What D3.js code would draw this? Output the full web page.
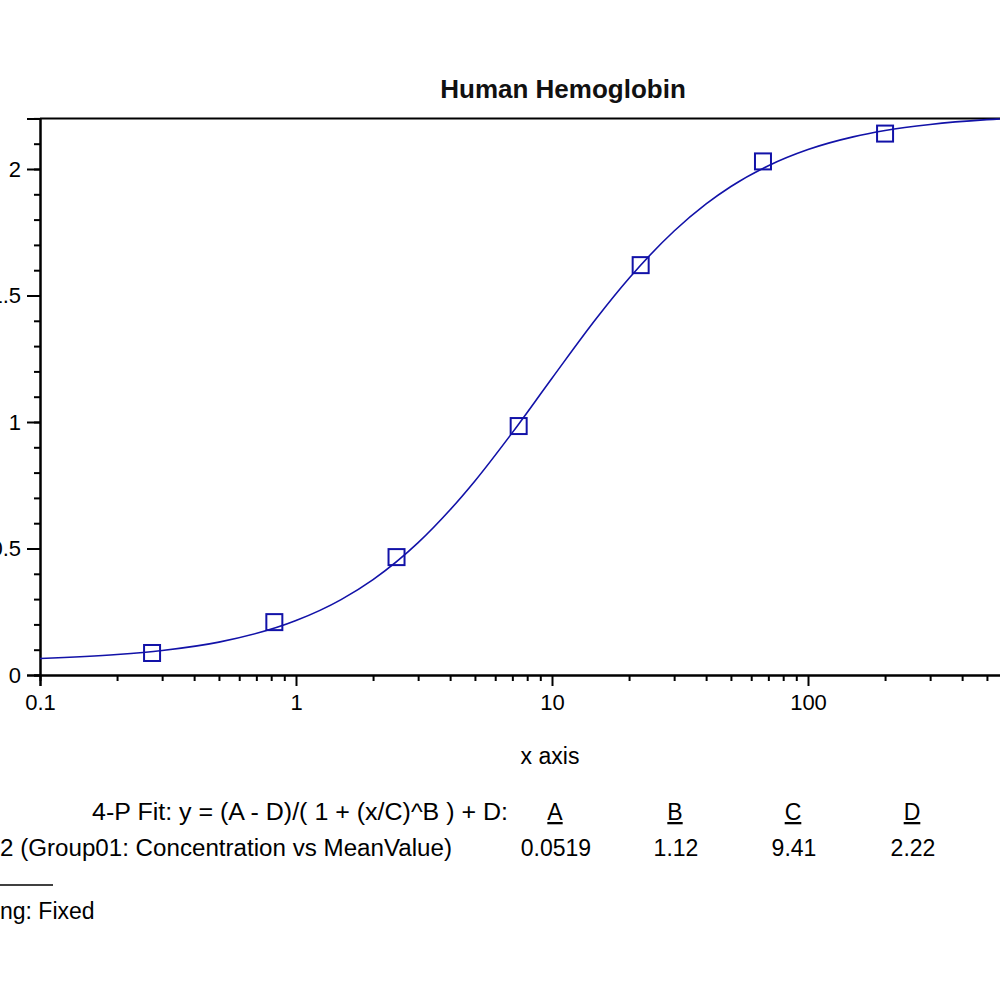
<!DOCTYPE html>
<html>
<head>
<meta charset="utf-8">
<script src="https://cdn.jsdelivr.net/npm/d3@7"></script>
<style>
  html, body { margin: 0; padding: 0; background: #fff; overflow: hidden; }
  svg { display: block; font-family: "Liberation Sans", Arial, sans-serif; }
</style>
</head>
<body>
<svg id="chart" width="1000" height="1000"></svg>
<script>
// ---- data ----
const title = "Human Hemoglobin";
const xLabel = "x axis";
const concentrations = [0.274, 0.823, 2.47, 7.41, 22.2, 66.7, 200];
const meanValues = [0.087, 0.209, 0.466, 0.984, 1.62, 2.03, 2.14];
// fitted curve
const curveX = [0.1, 0.2, 0.3, 0.5, 1, 1.5, 2, 3, 4, 5, 7, 10, 15, 20, 30, 40, 50, 70, 100, 150, 200, 300, 500, 1000];
const curveY = [0.065, 0.081, 0.097, 0.130, 0.215, 0.298, 0.377, 0.523, 0.653, 0.767, 0.958, 1.173, 1.413, 1.568, 1.755, 1.862, 1.931, 2.013, 2.077, 2.127, 2.152, 2.176, 2.195, 2.208];
const yMajorTicks = [0, 0.5, 1, 1.5, 2];
const yTickLabels = ["0", "0.5", "1", "1.5", "2"];
const xMajorTicks = [0.1, 1, 10, 100];
const xTickLabels = ["0.1", "1", "10", "100"];
const fitLabel = "4-P Fit: y = (A - D)/( 1 + (x/C)^B ) + D:";
const paramNames = ["A", "B", "C", "D"];
const paramValues = ["0.0519", "1.12", "9.41", "2.22"];
const seriesLabel = "2 (Group01: Concentration vs MeanValue)";
const weightingLabel = "ng: Fixed";

// ---- layout ----
const svg = d3.select("#chart");
const left = 40, bottom = 675, decade = 256, unitY = 253;
const x = d3.scaleLog().domain([0.1, 1000]).range([left, left + 4 * decade]);
const y = d3.scaleLinear().domain([0, 2.2]).range([bottom, bottom - 2.2 * unitY]);
const blue = "#1212a8";

// top border
svg.append("line").attr("x1", left).attr("x2", 1000)
  .attr("y1", y(2.2)).attr("y2", y(2.2)).attr("stroke", "#000").attr("stroke-width", 2);

// y axis
const yMinor = d3.range(0, 2.2001, 0.1).map(v => +v.toFixed(1));
const yAxisMinor = d3.axisLeft(y).tickValues(yMinor).tickSize(6).tickFormat("");
const gYm = svg.append("g").attr("transform", `translate(${left},0)`).call(yAxisMinor);
const yAxisMajor = d3.axisLeft(y).tickValues(yMajorTicks).tickSize(13)
  .tickFormat((d, i) => yTickLabels[i]).tickPadding(6);
const gY = svg.append("g").attr("transform", `translate(${left},0)`).call(yAxisMajor);
[gYm, gY].forEach(g => {
  g.select(".domain").attr("stroke", "#000").attr("stroke-width", 2);
  g.selectAll(".tick line").attr("stroke", "#000").attr("stroke-width", 2);
});
gY.selectAll(".tick text").attr("font-size", 22).attr("fill", "#000")
  .attr("font-family", "'Liberation Sans', Arial, sans-serif");

// x axis
const xMinor = [];
[0.1, 1, 10, 100].forEach(d => { for (let k = 2; k <= 9; k++) xMinor.push(d * k); });
const xAxisMinor = d3.axisBottom(x).tickValues(xMinor).tickSize(6).tickFormat("");
const gXm = svg.append("g").attr("transform", `translate(0,${bottom})`).call(xAxisMinor);
const xAxisMajor = d3.axisBottom(x).tickValues(xMajorTicks).tickSize(11)
  .tickFormat((d, i) => xTickLabels[i]).tickPadding(8);
const gX = svg.append("g").attr("transform", `translate(0,${bottom})`).call(xAxisMajor);
[gXm, gX].forEach(g => {
  g.select(".domain").attr("stroke", "#000").attr("stroke-width", 2);
  g.selectAll(".tick line").attr("stroke", "#000").attr("stroke-width", 2);
});
gX.selectAll(".tick text").attr("font-size", 22).attr("fill", "#000")
  .attr("font-family", "'Liberation Sans', Arial, sans-serif");

// fitted curve
const curvePts = curveX.map((v, i) => [v, curveY[i]]);
svg.append("path").datum(curvePts)
  .attr("fill", "none").attr("stroke", blue).attr("stroke-width", 1.6)
  .attr("d", d3.line().x(d => x(d[0])).y(d => y(d[1])).curve(d3.curveMonotoneX));

// data markers
const sq = 16;
svg.append("g").selectAll("rect").data(concentrations).join("rect")
  .attr("x", d => x(d) - sq / 2)
  .attr("y", (d, i) => y(meanValues[i]) - sq / 2)
  .attr("width", sq).attr("height", sq)
  .attr("fill", "none").attr("stroke", blue).attr("stroke-width", 2);

// title & axis label
svg.append("text").attr("x", 563).attr("y", 98).attr("text-anchor", "middle")
  .attr("font-size", 26).attr("font-weight", "bold").attr("fill", "#111").text(title);
svg.append("text").attr("x", 550).attr("y", 764).attr("text-anchor", "middle")
  .attr("font-size", 23).attr("fill", "#000").text(xLabel);

// fit legend
const colX = [555, 675, 793, 912];
svg.append("text").attr("x", 92).attr("y", 820)
  .attr("font-size", 23).attr("fill", "#000")
  .attr("textLength", 416).attr("lengthAdjust", "spacingAndGlyphs").text(fitLabel);
svg.append("g").selectAll("text").data(paramNames).join("text")
  .attr("x", (d, i) => colX[i]).attr("y", 820).attr("text-anchor", "middle")
  .attr("font-size", 23).attr("fill", "#000").attr("text-decoration", "underline").text(d => d);
svg.append("text").attr("x", 0).attr("y", 856)
  .attr("font-size", 23).attr("fill", "#000")
  .attr("textLength", 452).attr("lengthAdjust", "spacingAndGlyphs").text(seriesLabel);
svg.append("g").selectAll("text").data(paramValues).join("text")
  .attr("x", (d, i) => colX[i] + 1).attr("y", 856).attr("text-anchor", "middle")
  .attr("font-size", 23).attr("fill", "#000").text(d => d);
svg.append("line").attr("x1", 0).attr("x2", 53).attr("y1", 885).attr("y2", 885)
  .attr("stroke", "#000").attr("stroke-width", 1.5);
svg.append("text").attr("x", 0).attr("y", 919)
  .attr("font-size", 23).attr("fill", "#000").text(weightingLabel);
</script>
</body>
</html>
